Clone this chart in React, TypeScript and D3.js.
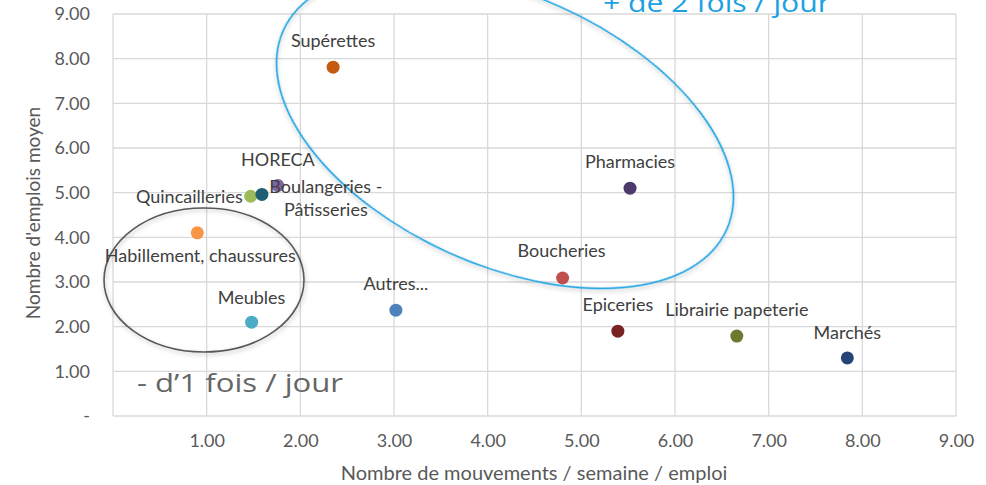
import * as d3 from 'd3'
import { useEffect, useRef } from 'react'

// secteurs
const categories = [
  'Supérettes',
  'Pharmacies',
  'Boucheries',
  'Autres...',
  'Epiceries',
  'Librairie papeterie',
  'Marchés',
  'Meubles',
  'Habillement, chaussures',
  'Quincailleries',
  'HORECA',
  'Boulangeries -\nPâtisseries',
]
const mouvements = [2.35, 5.52, 4.8, 3.02, 5.39, 6.66, 7.84, 1.48, 0.9, 1.47, 1.59, 1.76]
const emplois = [7.81, 5.1, 3.09, 2.37, 1.9, 1.79, 1.3, 2.1, 4.1, 4.92, 4.96, 5.16]
const dotColors = [
  '#c55a11', '#4b3a6b', '#c0504d', '#4f81bd', '#7a2323', '#6b7a2f',
  '#264478', '#4bacc6', '#f79646', '#9bbb59', '#1f5f73', '#8064a2',
]
// label placement (dx, dy, anchor)
const labelPos = [
  [0, -26, 'middle'], [0, -27, 'middle'], [-1, -27, 'middle'], [0, -26, 'middle'],
  [0, -26, 'middle'], [0, -26, 'middle'], [0, -25, 'middle'], [0, -25, 'middle'],
  [3, 23, 'middle'], [-8, 0, 'end'], [16, -35, 'middle'], [48, 1, 'middle'],
]
const ticks = [0, 1, 2, 3, 4, 5, 6, 7, 8, 9]

const FONT = "Lato, 'Open Sans', sans-serif"
const BIG_FONT = "'Open Sans', 'Noto Sans', sans-serif"

const App = () => {
  const svgRef = useRef(null)

  useEffect(() => {
    const svg = d3.select(svgRef.current)
    svg.selectAll('*').remove()

    const x = d3.scaleLinear().domain([0, 9]).range([113, 956])
    const y = d3.scaleLinear().domain([0, 9]).range([416, 14])

    const defs = svg.append('defs')
    const f = defs.append('filter').attr('id', 'shadow').attr('x', '-20%').attr('y', '-20%')
      .attr('width', '140%').attr('height', '140%')
    f.append('feDropShadow').attr('dx', 1).attr('dy', 2).attr('stdDeviation', 2)
      .attr('flood-color', '#000').attr('flood-opacity', 0.25)

    // grid
    svg.append('g').selectAll('line').data(ticks).enter().append('line')
      .attr('x1', (d) => x(d)).attr('x2', (d) => x(d))
      .attr('y1', y(0)).attr('y2', y(9))
      .attr('stroke', '#d9d9d9').attr('stroke-width', 1.3)
    svg.append('g').selectAll('line').data(ticks).enter().append('line')
      .attr('x1', x(0)).attr('x2', x(9))
      .attr('y1', (d) => y(d)).attr('y2', (d) => y(d))
      .attr('stroke', '#d9d9d9').attr('stroke-width', 1.3)

    // axes
    const yAxis = d3.axisLeft(y).tickValues(ticks).tickSize(0).tickPadding(23)
      .tickFormat((d) => (d === 0 ? '-' : d3.format('.2f')(d)))
    const gy = svg.append('g').attr('transform', `translate(${x(0)},0)`).call(yAxis)
    const xAxis = d3.axisBottom(x).tickValues(ticks.slice(1)).tickSize(0).tickPadding(18)
      .tickFormat(d3.format('.2f'))
    const gx = svg.append('g').attr('transform', `translate(0,${y(0)})`).call(xAxis)
    for (const g of [gx, gy]) {
      g.select('.domain').remove()
      g.selectAll('text').attr('font-family', FONT).attr('font-size', 18).attr('fill', '#595959')
    }

    // axis titles
    svg.append('text')
      .attr('x', 534).attr('y', 480)
      .attr('text-anchor', 'middle')
      .attr('font-family', FONT).attr('font-size', 20).attr('fill', '#595959')
      .text('Nombre de mouvements / semaine / emploi')
    svg.append('text')
      .attr('transform', 'translate(40,213) rotate(-90)')
      .attr('text-anchor', 'middle')
      .attr('font-family', FONT).attr('font-size', 19).attr('fill', '#595959')
      .text("Nombre d'emplois moyen")

    // ellipses
    svg.append('ellipse')
      .attr('cx', 505).attr('cy', 130).attr('rx', 243).attr('ry', 135)
      .attr('transform', 'rotate(24.2,505,130)')
      .attr('fill', 'none').attr('stroke', '#1ba1e2').attr('stroke-width', 1.6)
      .attr('filter', 'url(#shadow)')
    svg.append('ellipse')
      .attr('cx', 204).attr('cy', 280).attr('rx', 100).attr('ry', 72)
      .attr('fill', 'none').attr('stroke', '#595959').attr('stroke-width', 1.6)
      .attr('filter', 'url(#shadow)')

    // big annotations (stretched wide like the source)
    svg.append('text')
      .attr('x', 603).attr('y', 12)
      .attr('font-family', BIG_FONT).attr('font-size', 26).attr('fill', '#1ba1e2')
      .attr('textLength', 227).attr('lengthAdjust', 'spacingAndGlyphs')
      .text('+ de 2 fois / jour')
    svg.append('text')
      .attr('x', 137).attr('y', 392)
      .attr('font-family', BIG_FONT).attr('font-size', 26).attr('fill', '#666666')
      .attr('textLength', 206).attr('lengthAdjust', 'spacingAndGlyphs')
      .text('- d’1 fois / jour')

    // points
    const idx = d3.range(categories.length)
    svg.append('g').selectAll('circle').data(idx).enter().append('circle')
      .attr('cx', (i) => x(mouvements[i]))
      .attr('cy', (i) => y(emplois[i]))
      .attr('r', 6.5)
      .attr('fill', (i) => dotColors[i])

    // labels
    const lab = svg.append('g').selectAll('text').data(idx).enter().append('text')
      .attr('x', (i) => x(mouvements[i]) + labelPos[i][0])
      .attr('y', (i) => y(emplois[i]) + labelPos[i][1])
      .attr('text-anchor', (i) => labelPos[i][2])
      .attr('font-family', FONT).attr('font-size', 18).attr('fill', '#404040')
    lab.each(function (i) {
      const t = d3.select(this)
      const lines = categories[i].split('\n')
      lines.forEach((l, k) => {
        t.append('tspan')
          .attr('x', x(mouvements[i]) + labelPos[i][0])
          .attr('dy', k === 0 ? '0.35em' : 23)
          .text(l)
      })
    })
  }, [])

  return (
    <svg
      ref={svgRef}
      width={986}
      height={485}
      style={{ position: 'absolute', left: 0, top: 0, background: '#fff' }}
    />
  )
}

export default App
